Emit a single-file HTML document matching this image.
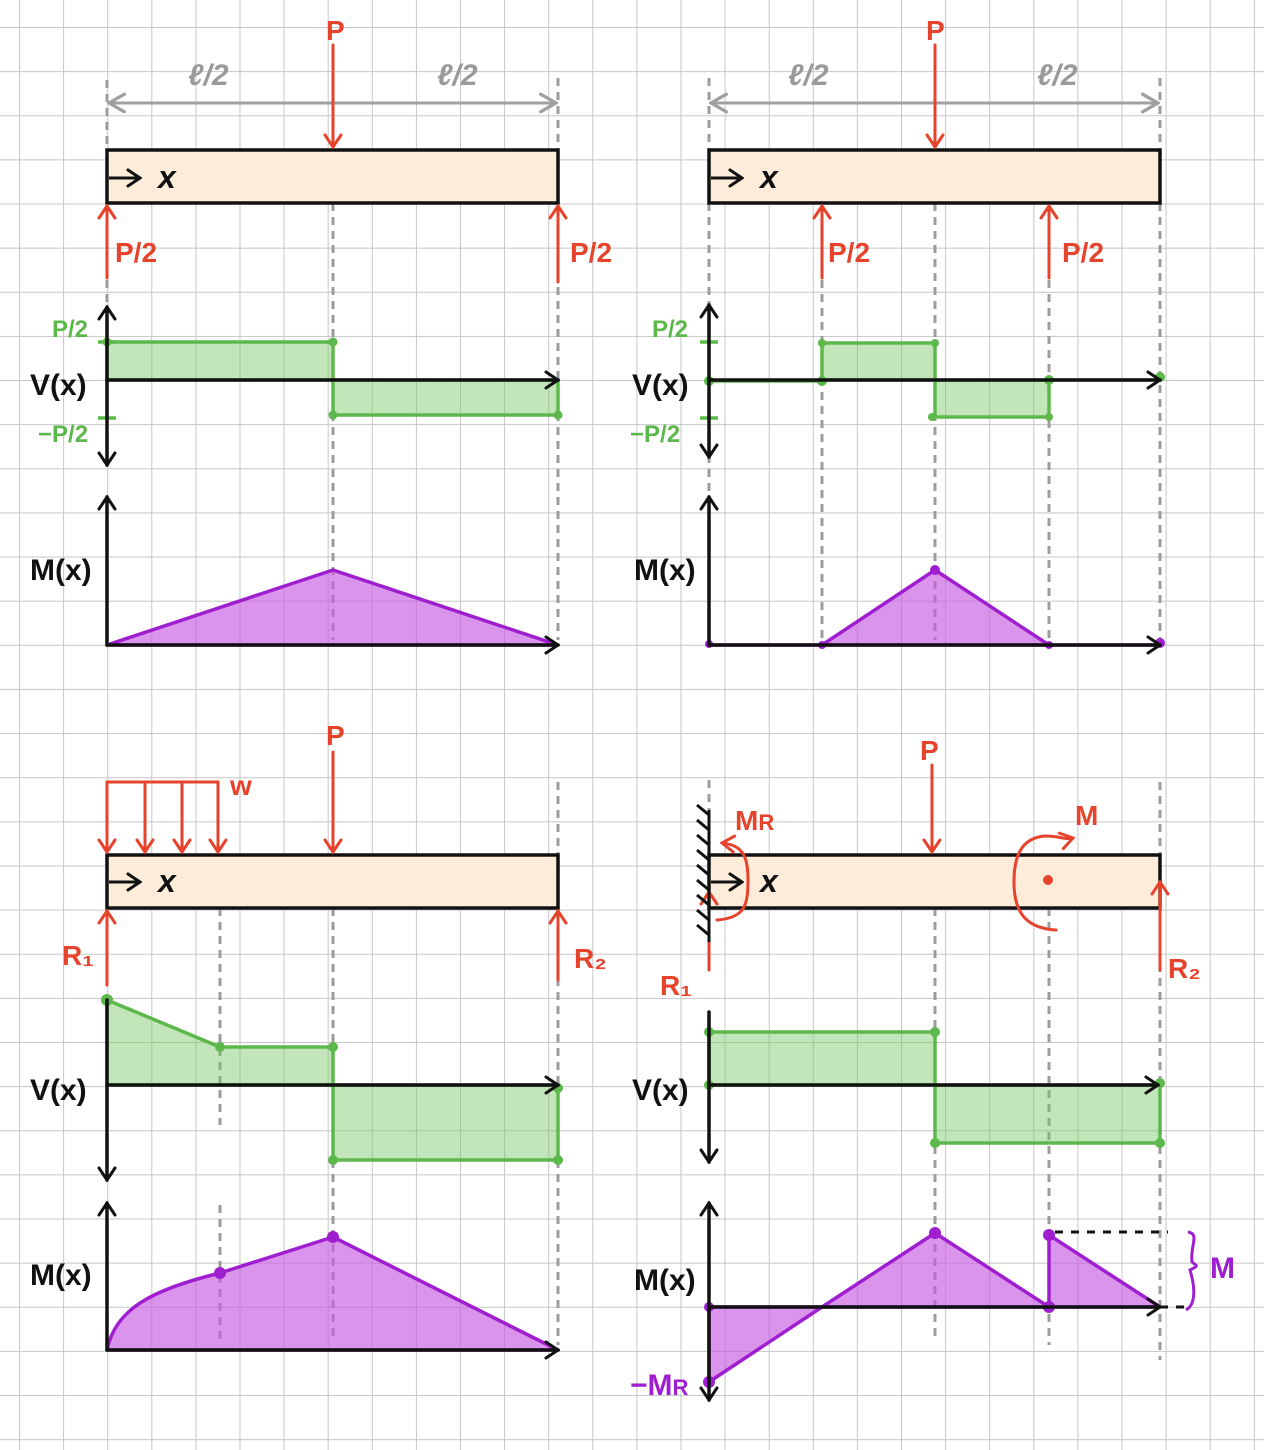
<!DOCTYPE html>
<html><head><meta charset="utf-8"><style>
html,body{margin:0;padding:0;background:#fff;}
svg{display:block;}
text{font-family:"Liberation Sans",sans-serif;font-weight:bold;}
</style></head><body>
<svg width="1264" height="1450" viewBox="0 0 1264 1450" xmlns="http://www.w3.org/2000/svg">
<defs>
<pattern id="grid" x="19" y="27" width="44.1" height="44.13" patternUnits="userSpaceOnUse">
<path d="M0 0V44.13M0 0H44.1" stroke="#c6c6c6" stroke-width="2" fill="none"/>
</pattern>
<marker id="ar" viewBox="0 0 20 20" refX="18" refY="10" markerWidth="20" markerHeight="20" markerUnits="userSpaceOnUse" orient="auto"><path d="M6 2L18 10L6 18" fill="none" stroke="#e6432c" stroke-width="3" stroke-linecap="round"/></marker>
<marker id="ak" viewBox="0 0 20 20" refX="18" refY="10" markerWidth="20" markerHeight="20" markerUnits="userSpaceOnUse" orient="auto"><path d="M6 2L18 10L6 18" fill="none" stroke="#111" stroke-width="3" stroke-linecap="round"/></marker>
<marker id="ag" viewBox="0 0 20 20" refX="18" refY="10" markerWidth="22" markerHeight="22" markerUnits="userSpaceOnUse" orient="auto"><path d="M4 2L18 10L4 18" fill="none" stroke="#a0a0a0" stroke-width="3" stroke-linecap="round"/></marker>
</defs>
<rect width="1264" height="1450" fill="#fff"/>
<rect width="1264" height="1450" fill="url(#grid)"/>

<g stroke="#9c9c9c" stroke-width="3" stroke-dasharray="8 6" fill="none">
<path d="M107 80V150M558 78V150M333 203V640M558 203V640M107 280V305"/>
<path d="M709 78V150M1160 78V150M709 203V640M822 280V640M935 203V640M1049 280V640M1160 203V640"/>
<path d="M558 782V855M220 908V1125M333 908V1340M558 908V1345M220 1205V1340"/>
<path d="M709 780V810M1160 782V855M935 908V1340M1049 908V1345M1160 908V1360"/>
</g>

<g stroke="#a0a0a0" stroke-width="3" fill="none">
<path d="M333 103H109" marker-end="url(#ag)"/><path d="M333 103H556" marker-end="url(#ag)"/>
<path d="M935 103H711" marker-end="url(#ag)"/><path d="M935 103H1158" marker-end="url(#ag)"/>
</g>
<g fill="#9a9a9a" font-size="30" font-style="italic">
<text x="188" y="85">ℓ/2</text><text x="437" y="85">ℓ/2</text>
<text x="788" y="85">ℓ/2</text><text x="1037" y="85">ℓ/2</text>
</g>

<g fill="#fdecd9" stroke="#111" stroke-width="3.5">
<rect x="107" y="150" width="451" height="53"/>
<rect x="709" y="150" width="451" height="53"/>
<rect x="107" y="855" width="451" height="53"/>
<rect x="709" y="855" width="451" height="53"/>
</g>
<g stroke="#111" stroke-width="3" fill="none">
<path d="M109 178H140" marker-end="url(#ak)"/>
<path d="M711 178H742" marker-end="url(#ak)"/>
<path d="M109 882H140" marker-end="url(#ak)"/>
<path d="M711 882H742" marker-end="url(#ak)"/>
</g>
<g font-size="32" fill="#111" font-style="italic">
<text x="158" y="188">x</text><text x="760" y="188">x</text>
<text x="158" y="892">x</text><text x="760" y="892">x</text>
</g>

<g stroke="#e6432c" stroke-width="3" fill="none" stroke-linecap="round">
<path d="M333 45V147" marker-end="url(#ar)"/>
<path d="M107 278V206" marker-end="url(#ar)"/>
<path d="M558 282V206" marker-end="url(#ar)"/>
<path d="M935 45V147" marker-end="url(#ar)"/>
<path d="M822 278V206" marker-end="url(#ar)"/>
<path d="M1049 278V206" marker-end="url(#ar)"/>
<path d="M333 752V852" marker-end="url(#ar)"/>
<path d="M107 782H218"/>
<path d="M107 782V852" marker-end="url(#ar)"/>
<path d="M145 782V852" marker-end="url(#ar)"/>
<path d="M182 782V852" marker-end="url(#ar)"/>
<path d="M218 782V852" marker-end="url(#ar)"/>
<path d="M107 985V911" marker-end="url(#ar)"/>
<path d="M558 980V911" marker-end="url(#ar)"/>
<path d="M932 765V852" marker-end="url(#ar)"/>
<path d="M709 970V892" marker-end="url(#ar)"/>
<path d="M1160 970V882" marker-end="url(#ar)"/>
<path d="M717 920C745 918 748 905 748 880C748 860 745 845 722 843" marker-end="url(#ar)"/>
<path d="M1056 930C1020 928 1014 905 1014 882C1014 858 1020 838 1045 836C1060 836 1065 840 1073 838" marker-end="url(#ar)"/>
</g>
<circle cx="1048" cy="880" r="5" fill="#e6432c"/>
<g fill="#e6432c" font-size="28">
<text x="326" y="40">P</text><text x="926" y="40">P</text>
<text x="115" y="262">P/2</text><text x="570" y="262">P/2</text>
<text x="828" y="262">P/2</text><text x="1062" y="262">P/2</text>
<text x="326" y="745">P</text><text x="230" y="795">w</text>
<text x="62" y="965">R₁</text><text x="574" y="968">R₂</text>
<text x="920" y="760">P</text><text x="735" y="830">M<tspan font-size="22">R</tspan></text>
<text x="1075" y="825">M</text>
<text x="660" y="995">R₁</text><text x="1168" y="978">R₂</text>
</g>

<path d="M709 810V942" stroke="#111" stroke-width="3"/>
<g stroke="#111" stroke-width="3">
<path d="M709 815l-12 -10M709 830l-12 -10M709 845l-12 -10M709 860l-12 -10M709 875l-12 -10M709 890l-12 -10M709 905l-12 -10M709 920l-12 -10M709 935l-12 -10"/>
</g>

<g fill="rgba(120,200,100,0.45)" stroke="#5cb84a" stroke-width="3.5" stroke-linejoin="round">
<path d="M107 380V342H333V380Z"/><path d="M333 380V415H558V380Z"/>
<path d="M822 380V343H935V380Z"/><path d="M935 380V417H1049V380Z"/>
<path d="M107 1085V1000L220 1047H333V1085Z"/><path d="M333 1085V1160H558V1085Z"/>
<path d="M709 1085V1032H935V1085Z"/><path d="M935 1085V1143H1160V1085Z"/>
</g>
<g stroke="#5cb84a" stroke-width="3.5"><path d="M709 381H822M1049 380H1160"/><path d="M98 342H116M98 418H116M700 342H718M700 418H718"/></g>
<g fill="#5cb84a">
<circle cx="107" cy="342" r="4.5"/><circle cx="333" cy="342" r="4.5"/><circle cx="333" cy="415" r="4.5"/><circle cx="558" cy="415" r="4.5"/>
<circle cx="709" cy="381" r="5"/><circle cx="822" cy="381" r="5"/><circle cx="822" cy="343" r="4"/><circle cx="935" cy="343" r="4"/><circle cx="932" cy="417" r="4"/><circle cx="1049" cy="417" r="4"/><circle cx="1049" cy="380" r="5"/><circle cx="1160" cy="377" r="5"/>
<circle cx="107" cy="1000" r="6"/><circle cx="220" cy="1047" r="5"/><circle cx="333" cy="1047" r="5"/><circle cx="333" cy="1160" r="5"/><circle cx="558" cy="1160" r="5"/><circle cx="558" cy="1088" r="5"/>
<circle cx="709" cy="1032" r="5"/><circle cx="709" cy="1085" r="5"/><circle cx="935" cy="1032" r="5"/><circle cx="935" cy="1143" r="5"/><circle cx="1160" cy="1143" r="5"/><circle cx="1160" cy="1083" r="5"/>
</g>
<g fill="#5cb84a" font-size="24">
<text x="52" y="337">P/2</text><text x="38" y="442">−P/2</text>
<text x="652" y="337">P/2</text><text x="630" y="442">−P/2</text>
</g>

<g fill="rgba(200,90,225,0.65)" stroke="#9f1fd0" stroke-width="3.5" stroke-linejoin="round">
<path d="M107 645L333 570L558 645Z"/>
<path d="M822 645L935 570L1049 645Z"/>
<path d="M107 1350C115 1310 150 1290 220 1273L333 1237L558 1350Z"/>
<path d="M709 1307V1382L822 1307Z"/>
<path d="M822 1307L935 1233L1049 1307Z"/>
<path d="M1049 1307V1235L1160 1307Z"/>
</g>
<g stroke="#9f1fd0" stroke-width="3.5"><path d="M709 645H822M1049 645H1160"/></g>
<g fill="#9f1fd0">
<circle cx="935" cy="570" r="5"/><circle cx="709" cy="644" r="4"/><circle cx="822" cy="645" r="4"/><circle cx="1049" cy="645" r="4"/><circle cx="1160" cy="643" r="5"/>
<circle cx="220" cy="1273" r="6"/><circle cx="333" cy="1237" r="6"/>
<circle cx="709" cy="1307" r="5"/><circle cx="709" cy="1382" r="6"/><circle cx="935" cy="1233" r="6"/><circle cx="1049" cy="1307" r="6"/><circle cx="1049" cy="1235" r="6"/>
</g>
<path d="M1055 1232H1168M1160 1307H1192" stroke="#111" stroke-width="3" stroke-dasharray="8 8" fill="none"/>
<path d="M1188 1232C1200 1234 1190 1245 1192 1262C1196 1266 1200 1265 1190 1270C1196 1290 1195 1305 1186 1310" stroke="#9f1fd0" stroke-width="3" fill="none"/>
<g fill="#9f1fd0" font-size="30"><text x="1210" y="1278">M</text><text x="630" y="1395">−M<tspan font-size="22">R</tspan></text></g>

<g stroke="#111" stroke-width="3.5" fill="none" stroke-linecap="round">
<path d="M107 380V307" marker-end="url(#ak)"/><path d="M107 380V465" marker-end="url(#ak)"/><path d="M107 380H558" marker-end="url(#ak)"/>
<path d="M107 645V497" marker-end="url(#ak)"/><path d="M107 645H558" marker-end="url(#ak)"/>
<path d="M709 380V305" marker-end="url(#ak)"/><path d="M709 380V457" marker-end="url(#ak)"/><path d="M709 380H1160" marker-end="url(#ak)"/>
<path d="M709 645V497" marker-end="url(#ak)"/><path d="M709 645H1160" marker-end="url(#ak)"/>
<path d="M107 1085V1000"/><path d="M107 1085V1180" marker-end="url(#ak)"/><path d="M107 1085H558" marker-end="url(#ak)"/>
<path d="M107 1350V1203" marker-end="url(#ak)"/><path d="M107 1350H558" marker-end="url(#ak)"/>
<path d="M709 1085V1012"/><path d="M709 1085V1162" marker-end="url(#ak)"/><path d="M709 1085H1158" marker-end="url(#ak)"/>
<path d="M709 1307V1203" marker-end="url(#ak)"/><path d="M709 1307V1400" marker-end="url(#ak)"/><path d="M709 1307H1160" marker-end="url(#ak)"/>
</g>
<g fill="#111" font-size="30">
<text x="30" y="395">V(x)</text><text x="632" y="395">V(x)</text>
<text x="30" y="580">M(x)</text><text x="634" y="580">M(x)</text>
<text x="30" y="1100">V(x)</text><text x="632" y="1100">V(x)</text>
<text x="30" y="1285">M(x)</text><text x="634" y="1290">M(x)</text>
</g>
</svg>
</body></html>
